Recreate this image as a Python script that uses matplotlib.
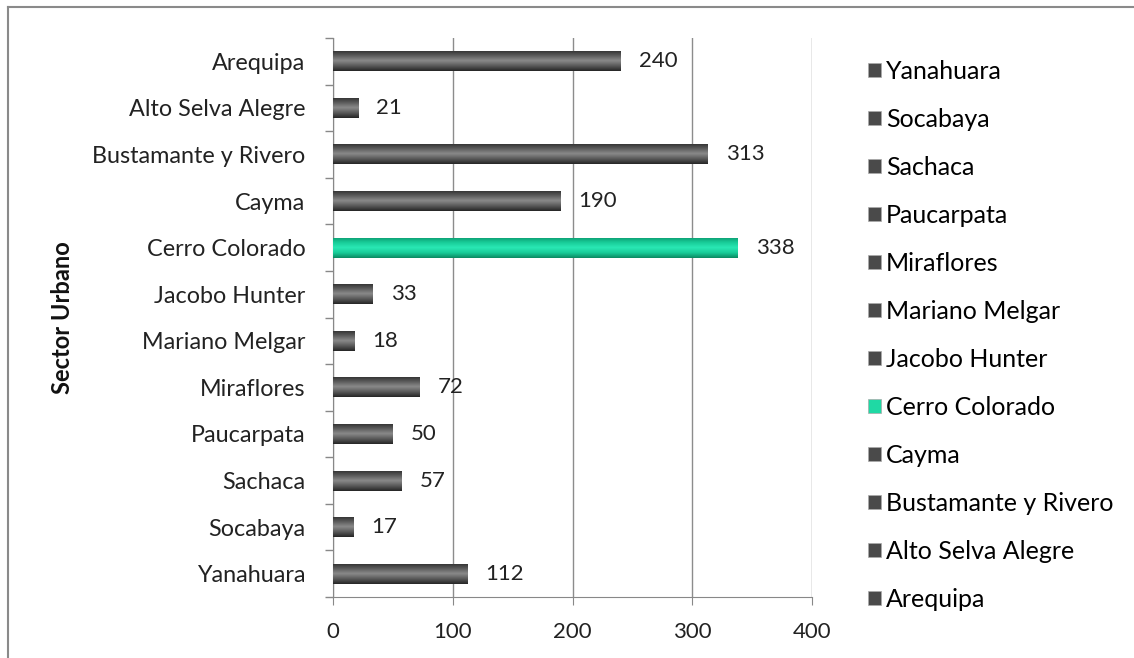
import numpy as np
import matplotlib.pyplot as plt
from matplotlib.patches import Patch
from matplotlib.lines import Line2D

plt.rcParams['font.family'] = ['Lato', 'DejaVu Sans']

sectores = ["Arequipa", "Alto Selva Alegre", "Bustamante y Rivero", "Cayma",
            "Cerro Colorado", "Jacobo Hunter", "Mariano Melgar", "Miraflores",
            "Paucarpata", "Sachaca", "Socabaya", "Yanahuara"]
valores = [240, 21, 313, 190, 338, 33, 18, 72, 50, 57, 17, 112]
destacado = "Cerro Colorado"
xticks = [0, 100, 200, 300, 400]

gris = ["#2e2e2e", "#5a5a5a", "#8a8a8a", "#5a5a5a", "#262626"]
verde = ["#0c9a70", "#18cc98", "#2ae8b4", "#18cc98", "#0a8a62"]


def shade_bar(ax, bar, colors):
    # fake a cylinder look: vertical gradient clipped to the bar
    x0, y0 = bar.get_x(), bar.get_y()
    w, h = bar.get_width(), bar.get_height()
    rgb = np.array([plt.matplotlib.colors.to_rgb(c) for c in colors])
    t = np.linspace(0, 1, 64)
    pos = np.linspace(0, 1, len(colors))
    grad = np.stack([np.interp(t, pos, rgb[:, k]) for k in range(3)], axis=-1)
    grad = grad[:, None, :]
    im = ax.imshow(grad, extent=(x0, x0 + w, y0, y0 + h), aspect="auto",
                   origin="lower", zorder=3, interpolation="bilinear")
    im.set_clip_path(bar)


fig = plt.figure(figsize=(11.34, 6.58), dpi=100)
fig.patch.set_facecolor("white")
ax = fig.add_axes([0.2937, 0.0927, 0.4225, 0.8495])

ypos = np.arange(len(sectores))
bars = ax.barh(ypos, valores, height=0.43, color="#4a4a4a", zorder=2,
               edgecolor="none")
for bar, nombre in zip(bars, sectores):
    shade_bar(ax, bar, verde if nombre == destacado else gris)

for y, v in zip(ypos, valores):
    ax.annotate(str(v), (v, y), xytext=(13, 0), textcoords="offset points",
                va="center", ha="left", fontsize=16, color="#222222")

ax.set_ylim(len(sectores) - 0.5, -0.5)
ax.set_xlim(0, 400)
ax.set_xticks(xticks)
ax.set_xticklabels([str(x) for x in xticks], fontsize=16, color="#222222")
ax.set_yticks(ypos)
ax.set_yticklabels(sectores, fontsize=16.8, color="#222222")
ax.set_yticks(np.arange(len(sectores) + 1) - 0.5, minor=True)
ax.tick_params(axis="y", which="major", length=0, pad=20)
ax.tick_params(axis="y", which="minor", length=6, color="#888888", width=1)
ax.tick_params(axis="x", which="major", length=6, color="#888888", pad=12)

ax.grid(axis="x", color="#8c8c8c", linewidth=1, zorder=0)
ax.set_axisbelow(True)
for side in ["top", "right"]:
    ax.spines[side].set_visible(False)
ax.spines["left"].set_color("#888888")
ax.spines["bottom"].set_color("#888888")

fig.text(0.055, 0.518, "Sector Urbano", rotation=90, fontsize=17,
         fontweight="bold", va="center", ha="center", color="#111111")

handles = [Patch(facecolor=("#1fd9a4" if s == destacado else "#4a4a4a"),
                 edgecolor="#aaaaaa", linewidth=0.5, label=s)
           for s in sectores[::-1]]
fig.legend(handles=handles, loc="upper left", bbox_to_anchor=(0.757, 0.924),
           frameon=False, fontsize=18, handlelength=0.5, handleheight=0.5,
           handletextpad=0.2, labelspacing=1.0, borderaxespad=0)

# frame lines along the top and left edge of the figure
fig.add_artist(Line2D([8 / 1134, 1], [1 - 7 / 658, 1 - 7 / 658],
                      transform=fig.transFigure, color="#8a8a8a", lw=1.5))
fig.add_artist(Line2D([8 / 1134, 8 / 1134], [0, 1 - 7 / 658],
                      transform=fig.transFigure, color="#8a8a8a", lw=1.5))

fig.savefig("out.png", dpi=100)
